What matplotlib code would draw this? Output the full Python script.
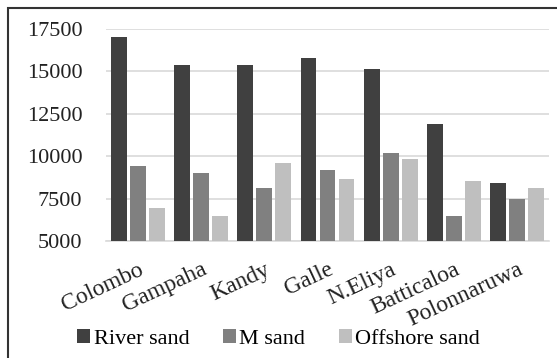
import numpy as np
import matplotlib
matplotlib.use("Agg")
import matplotlib.pyplot as plt
from matplotlib.patches import Rectangle

plt.rcParams["font.family"] = ["Liberation Serif", "DejaVu Serif"]

districts = ["Colombo", "Gampaha", "Kandy", "Galle", "N.Eliya", "Batticaloa", "Polonnaruwa"]
river_sand = [17000, 15350, 15350, 15800, 15150, 11900, 8400]
m_sand = [9450, 9000, 8150, 9200, 10200, 6450, 7450]
offshore_sand = [6950, 6450, 9600, 8650, 9850, 8550, 8100]

series = [
    ("River sand", river_sand, "#404040"),
    ("M sand", m_sand, "#808080"),
    ("Offshore sand", offshore_sand, "#bfbfbf"),
]

fig = plt.figure(figsize=(5.57, 3.58), dpi=100)
ax = fig.add_axes([106 / 557, 1 - 241 / 358, 443 / 557, 212 / 358])

x = np.arange(len(districts))
step, width = 0.3, 0.25
for i, (name, vals, col) in enumerate(series):
    ax.bar(x + (i - 1) * step, np.array(vals) - 5000, bottom=5000, width=width,
           color=col, label=name, zorder=3)

ax.set_xlim(-0.5, len(districts) - 0.5)
ax.set_ylim(5000, 17500)
ax.set_yticks(np.arange(5000, 17501, 2500))
ax.grid(axis="y", color="#d9d9d9", linewidth=1.2, zorder=0)
for s in ["left", "right", "top"]:
    ax.spines[s].set_visible(False)
ax.spines["bottom"].set_color("#d9d9d9")
ax.spines["bottom"].set_linewidth(1.2)
ax.tick_params(axis="both", length=0, labelsize=16, colors="#222222")
ax.tick_params(axis="y", pad=17)
ax.set_xticks(x)
ax.set_xticklabels(districts, rotation=25, ha="right", rotation_mode="anchor", fontsize=17)
ax.tick_params(axis="x", pad=13)

fig.legend(loc="center", bbox_to_anchor=(0.5, 1 - 339 / 358), ncol=3, frameon=False,
           fontsize=16, handlelength=0.6, handleheight=0.6, handletextpad=0.15,
           columnspacing=1.5)

# frame around the chart
fig.patches.append(Rectangle((8 / 557, -0.1), 1.2, 1 - 8 / 358 + 0.1, transform=fig.transFigure,
                             fill=False, edgecolor="#333333", linewidth=1.5))

fig.savefig("out.png", dpi=100)
